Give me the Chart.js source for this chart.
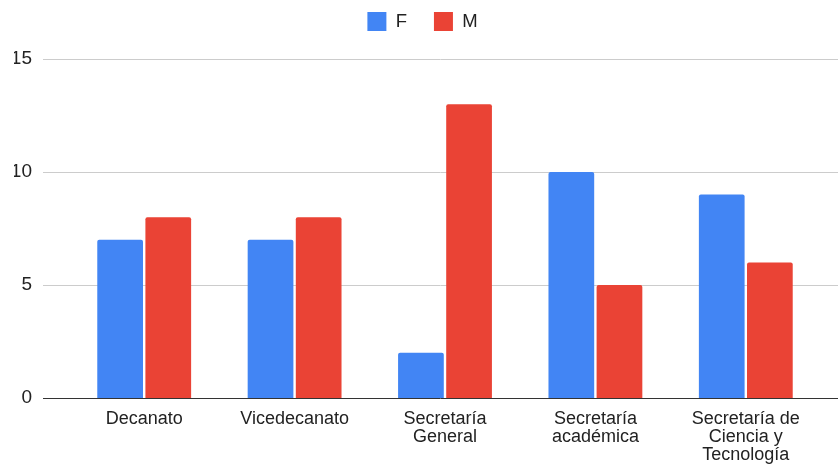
<!DOCTYPE html>
<html>
<head>
<meta charset="utf-8">
<script src="https://cdn.jsdelivr.net/npm/chart.js@4/dist/chart.umd.min.js"></script>
<style>
  html, body { margin: 0; padding: 0; background: #fff; }
  #wrap { width: 838px; height: 464px; }
</style>
</head>
<body>
<div id="wrap"><canvas id="cargosChart"></canvas></div>
<script>
// Data
const categories = [
    'Decanato',
    'Vicedecanato',
    ['Secretaría', 'General'],
    ['Secretaría', 'académica'],
    ['Secretaría de', 'Ciencia y', 'Tecnología']
];
const valuesF = [7, 7, 2, 10, 9];
const valuesM = [8, 8, 13, 5, 6];
const yTicks = [0, 5, 10, 15];

const FONT = "Arial, 'Liberation Sans', sans-serif";

// Google-sheets style gridlines that run past the plot area
const wideGrid = {
    id: 'wideGrid',
    beforeDatasetsDraw(chart) {
        const ctx = chart.ctx;
        const area = chart.chartArea;
        const y = chart.scales.y;
        const x0 = area.left - 26;
        const x1 = chart.width;
        ctx.save();
        yTicks.forEach(function(v) {
            const py = Math.round(y.getPixelForValue(v)) + 0.5;
            ctx.beginPath();
            ctx.strokeStyle = v === 0 ? '#333333' : '#cccccc';
            ctx.lineWidth = 1;
            ctx.moveTo(x0, py);
            ctx.lineTo(x1, py);
            ctx.stroke();
        });
        ctx.restore();
    }
};

// nudge the legend up closer to the top edge, like the original
const legendShift = {
    id: 'legendShift',
    afterLayout(chart) {
        if (chart.legend) {
            chart.legend.top -= 18;
            chart.legend.bottom -= 18;
            chart.legend.left += 5;
            chart.legend.right += 5;
        }
    }
};

document.addEventListener('DOMContentLoaded', function() {
    const ctx = document.getElementById('cargosChart').getContext('2d');

    const config = {
        type: 'bar',
        data: {
            labels: categories,
            datasets: [
                {
                    label: 'F',
                    data: valuesF,
                    backgroundColor: '#4285F4',
                    borderRadius: { topLeft: 2, topRight: 2 },
                    borderSkipped: 'bottom',
                    barPercentage: 0.95,
                    categoryPercentage: 0.64
                },
                {
                    label: 'M',
                    data: valuesM,
                    backgroundColor: '#EA4335',
                    borderRadius: { topLeft: 2, topRight: 2 },
                    borderSkipped: 'bottom',
                    barPercentage: 0.95,
                    categoryPercentage: 0.64
                }
            ]
        },
        options: {
            responsive: true,
            maintainAspectRatio: false,
            animation: false,
            layout: {
                padding: { left: 14, right: 17, top: 0, bottom: 0 }
            },
            plugins: {
                legend: {
                    display: true,
                    position: 'top',
                    labels: {
                        boxWidth: 19,
                        boxHeight: 19,
                        padding: 27,
                        color: '#222',
                        font: { size: 18.5, family: FONT }
                    }
                },
                tooltip: { enabled: false }
            },
            scales: {
                x: {
                    grid: { display: false, drawTicks: false },
                    border: { display: false },
                    afterFit: function(scale) {
                        scale.paddingLeft = 0;
                        scale.paddingRight = 0;
                        scale.height = 66;
                    },
                    ticks: {
                        color: '#222',
                        padding: 12,
                        maxRotation: 0,
                        autoSkip: false,
                        font: { size: 18, family: FONT, lineHeight: 1.0 }
                    }
                },
                y: {
                    min: 0,
                    max: 15,
                    grid: { display: false, drawTicks: false },
                    border: { display: false },
                    afterBuildTicks: function(scale) {
                        scale.ticks = yTicks.map(function(v) { return { value: v }; });
                    },
                    afterFit: function(scale) {
                        scale.width = 55;
                        scale.paddingTop = 59;
                    },
                    ticks: {
                        color: '#222',
                        padding: 37,
                        font: { size: 19, family: FONT }
                    }
                }
            }
        },
        plugins: [wideGrid, legendShift]
    };

    new Chart(ctx, config);
});
</script>
</body>
</html>
